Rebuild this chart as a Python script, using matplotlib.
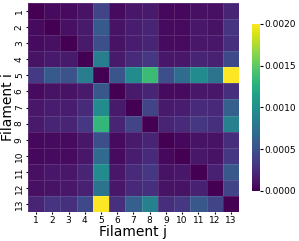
import matplotlib
matplotlib.use("Agg")
import matplotlib.pyplot as plt
import numpy as np
import seaborn as sns

labels = [str(k) for k in range(1, 14)]

# values in units of 1e-3
row1 = [0.00, 0.06, 0.06, 0.10, 0.40, 0.06, 0.12, 0.14, 0.04, 0.04, 0.08, 0.08, 0.20]
row2 = [0.06, 0.00, 0.08, 0.14, 0.56, 0.10, 0.16, 0.20, 0.06, 0.06, 0.12, 0.10, 0.30]
row3 = [0.06, 0.08, 0.00, 0.14, 0.48, 0.10, 0.16, 0.20, 0.06, 0.06, 0.12, 0.12, 0.28]
row4 = [0.10, 0.14, 0.14, 0.00, 0.84, 0.14, 0.24, 0.32, 0.12, 0.12, 0.20, 0.18, 0.44]
row5 = [0.34, 0.56, 0.50, 0.84, 0.00, 0.52, 0.96, 1.36, 0.48, 0.70, 0.96, 0.76, 2.00]
row6 = [0.06, 0.10, 0.10, 0.14, 0.54, 0.00, 0.14, 0.20, 0.06, 0.06, 0.12, 0.12, 0.28]
row7 = [0.12, 0.16, 0.16, 0.24, 0.96, 0.14, 0.00, 0.40, 0.14, 0.16, 0.24, 0.22, 0.60]
row8 = [0.14, 0.20, 0.20, 0.32, 1.32, 0.20, 0.40, 0.00, 0.20, 0.24, 0.32, 0.28, 0.86]
row9 = [0.04, 0.06, 0.06, 0.12, 0.48, 0.06, 0.14, 0.20, 0.00, 0.04, 0.10, 0.10, 0.26]
row10 = [0.04, 0.06, 0.06, 0.12, 0.68, 0.06, 0.16, 0.24, 0.04, 0.00, 0.12, 0.10, 0.32]
row11 = [0.08, 0.12, 0.12, 0.20, 0.96, 0.12, 0.24, 0.32, 0.10, 0.12, 0.00, 0.18, 0.54]
row12 = [0.08, 0.10, 0.12, 0.18, 0.76, 0.12, 0.22, 0.28, 0.10, 0.10, 0.18, 0.00, 0.40]
row13 = [0.20, 0.30, 0.28, 0.44, 2.00, 0.28, 0.60, 0.86, 0.26, 0.32, 0.54, 0.40, 0.00]

data = np.array([row1, row2, row3, row4, row5, row6, row7, row8, row9,
                 row10, row11, row12, row13]) * 1e-3

fig = plt.figure(figsize=(2.99, 2.41), dpi=100)
ax = fig.add_axes([0.0936, 0.1203, 0.7057, 0.867])
cax = fig.add_axes([0.843, 0.2075, 0.0268, 0.693])

sns.heatmap(data, ax=ax, cbar_ax=cax, cmap="viridis", vmin=0, vmax=0.002,
            xticklabels=labels, yticklabels=labels,
            linewidths=0.5, linecolor=(1, 1, 1, 0.12))

ax.set_xlabel("Filament j", fontsize=10, labelpad=0)
ax.set_ylabel("Filament i", fontsize=10, labelpad=0)
ax.tick_params(labelsize=6.5, length=1.5, pad=1.5)
ax.set_yticklabels(labels, rotation=90, va="center")
ax.set_xticklabels(labels, rotation=0)

cbar = ax.collections[0].colorbar
cbar.set_ticks([0, 0.0005, 0.001, 0.0015, 0.002])
cbar.set_ticklabels(["0.0000", "0.0005", "0.0010", "0.0015", "0.0020"])
cax.tick_params(labelsize=6.5, length=2, pad=1)
cbar.outline.set_visible(False)

fig.savefig("out.png", dpi=100)
